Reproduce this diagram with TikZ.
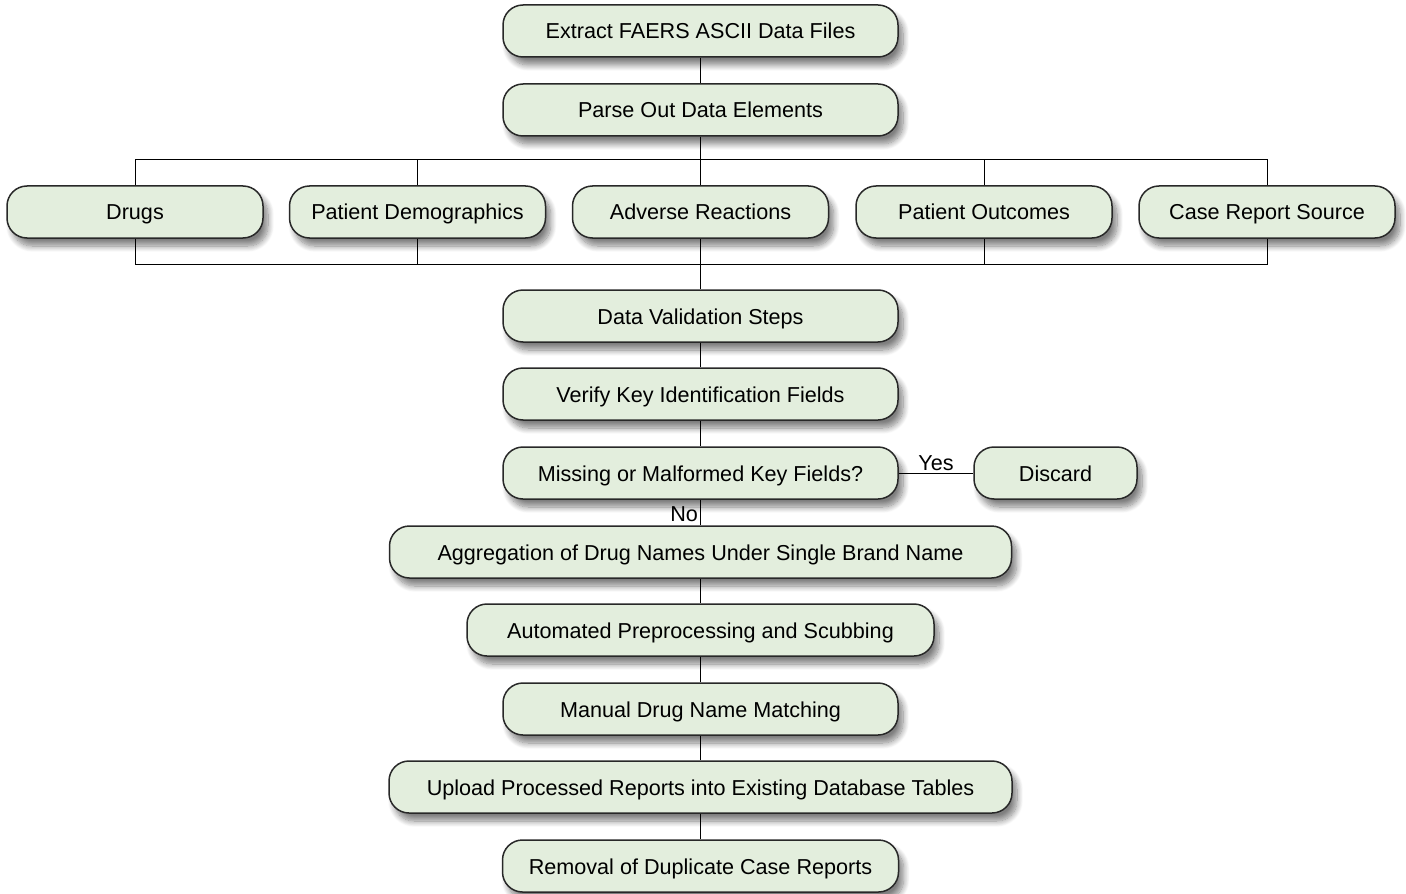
\documentclass[tikz,border=0pt]{standalone}
\usepackage{fontspec}
\setmainfont{Liberation Sans}
\usetikzlibrary{shadows.blur}
\definecolor{boxfill}{RGB}{227,238,221}
\definecolor{boxline}{RGB}{40,40,40}
\tikzset{
  box/.style={draw=boxline, line width=0.75pt, fill=boxfill, rounded corners=10pt,
    minimum height=26pt, inner sep=0pt, align=center, text height=10pt, text depth=2pt,
    font=\fontsize{10.8}{13}\selectfont,
    blur shadow={shadow xshift=2.5pt, shadow yshift=-4pt, shadow blur steps=10, shadow blur radius=3pt, shadow opacity=50}},
  conn/.style={draw=black, line width=0.5pt},
  lbl/.style={font=\fontsize{10.8}{13}\selectfont, inner sep=1pt}
}
\begin{document}
\begin{tikzpicture}[x=0.5pt, y=-0.5pt]
\useasboundingbox (0,0) rectangle (1406,893);
\node[box, minimum width=197.5pt] (extract) at (700.5,31) {Extract FAERS ASCII Data Files};
\node[box, minimum width=197.5pt] (parse) at (700.5,110) {Parse Out Data Elements};
\node[box, minimum width=128pt] (drugs) at (135,212) {Drugs};
\node[box, minimum width=128pt] (demo) at (417.5,212) {Patient Demographics};
\node[box, minimum width=128pt] (adverse) at (700.5,212) {Adverse Reactions};
\node[box, minimum width=128pt] (outcomes) at (984,212) {Patient Outcomes};
\node[box, minimum width=128pt] (cases) at (1267,212) {Case Report Source};
\node[box, minimum width=197.5pt] (valid) at (700.5,316) {Data Validation Steps};
\node[box, minimum width=197.5pt] (verify) at (700.5,394) {Verify Key Identification Fields};
\node[box, minimum width=197.5pt] (missing) at (700.5,473) {Missing or Malformed Key Fields?};
\node[box, minimum width=81.5pt] (discard) at (1055.5,473) {Discard};
\node[box, minimum width=311pt] (aggr) at (700.5,552) {Aggregation of Drug Names Under Single Brand Name};
\node[box, minimum width=233.5pt] (auto) at (700.5,630) {Automated Preprocessing and Scubbing};
\node[box, minimum width=197.5pt] (manual) at (700.5,709) {Manual Drug Name Matching};
\node[box, minimum width=311.5pt] (upload) at (700.5,787) {Upload Processed Reports into Existing Database Tables};
\node[box, minimum width=198pt] (removal) at (700.5,866) {Removal of Duplicate Case Reports};

\coordinate (bt) at (700.5,160);
\coordinate (bb) at (700.5,264);

\draw[conn] (extract) -- (parse);
\draw[conn] (parse) -- (adverse);
\draw[conn] (drugs.north) -- (drugs.north |- bt) -- (cases.north |- bt) -- (cases.north);
\draw[conn] (demo.north) -- (demo.north |- bt);
\draw[conn] (outcomes.north) -- (outcomes.north |- bt);
\draw[conn] (drugs.south) -- (drugs.south |- bb) -- (cases.south |- bb) -- (cases.south);
\draw[conn] (demo.south) -- (demo.south |- bb);
\draw[conn] (outcomes.south) -- (outcomes.south |- bb);
\draw[conn] (adverse) -- (valid);
\draw[conn] (valid) -- (verify);
\draw[conn] (verify) -- (missing);
\draw[conn] (missing) -- node[lbl, above] {Yes} (discard);
\draw[conn] (missing) -- node[lbl, left, pos=0.55] {No} (aggr);
\draw[conn] (aggr) -- (auto);
\draw[conn] (auto) -- (manual);
\draw[conn] (manual) -- (upload);
\draw[conn] (upload) -- (removal);
\end{tikzpicture}
\end{document}
